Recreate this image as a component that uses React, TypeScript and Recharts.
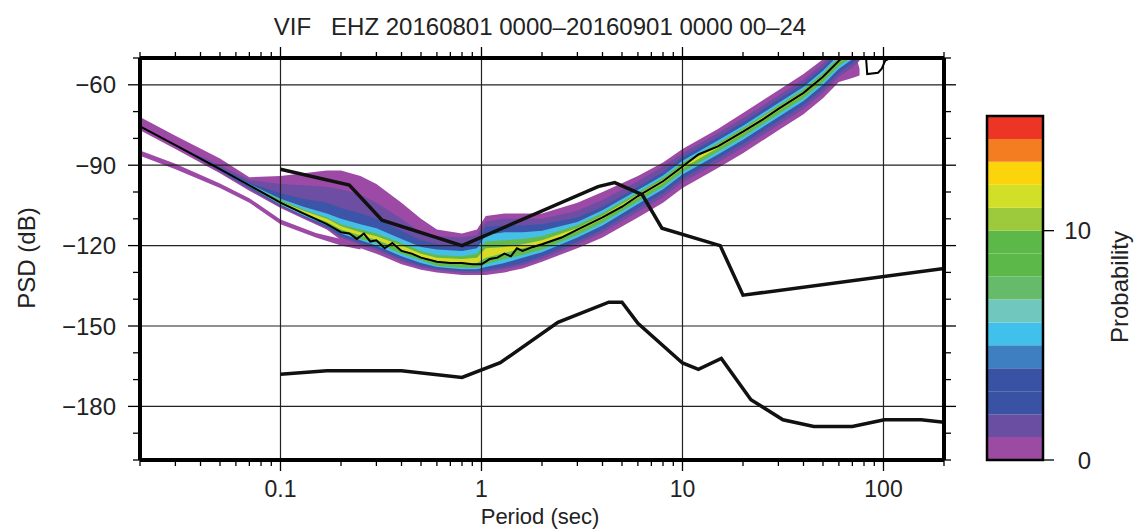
import React from 'react';
import { ComposedChart, Area, Line, XAxis, YAxis, ReferenceLine, BarChart, Bar } from 'recharts';

const FONT = '"Liberation Sans", Arial, Helvetica, sans-serif';
const INK = '#222';

// axis ticks
const majorPeriods = [0.1, 1, 10, 100];
const periodTicks = [
  0.02, 0.03, 0.04, 0.05, 0.06, 0.07, 0.08, 0.09, 0.1, 0.2, 0.3, 0.4, 0.5, 0.6, 0.7, 0.8, 0.9, 1,
  2, 3, 4, 5, 6, 7, 8, 9, 10, 20, 30, 40, 50, 60, 70, 80, 90, 100, 200,
];
const majorPsd = [-60, -90, -120, -150, -180];
const psdTicks = [-200, -190, -180, -170, -160, -150, -140, -130, -120, -110, -100, -90, -80, -70, -60, -50];

// Peterson noise models
const nhnmPeriods = [0.1, 0.22, 0.32, 0.8, 3.8, 4.6, 6.3, 7.9, 15.4, 20, 200];
const nhnmPsd = [-91.5, -97.4, -110.5, -120.0, -98.0, -96.5, -101.0, -113.5, -120.0, -138.5, -128.5];
const nlnmPeriods = [0.1, 0.17, 0.4, 0.8, 1.24, 2.4, 4.3, 5.0, 6.0, 10, 12, 15.6, 21.9, 31.6, 45, 70, 101, 154, 200];
const nlnmPsd = [
  -168.0, -166.7, -166.7, -169.2, -163.7, -148.6, -141.1, -141.1, -149.0, -163.8, -166.2, -162.1,
  -177.5, -185.0, -187.5, -187.5, -185.0, -185.0, -185.9,
];

// mode of the PDF
const modePeriods = [
  0.02, 0.03, 0.05, 0.07, 0.1, 0.13, 0.17, 0.2, 0.22, 0.24, 0.26, 0.28, 0.3, 0.33, 0.36, 0.4, 0.45,
  0.5, 0.6, 0.7, 0.8, 0.9, 1.0, 1.05, 1.1, 1.2, 1.3, 1.4, 1.5, 1.6, 1.8, 2.0, 2.5, 3, 4, 5, 6, 8,
  10, 12, 15, 20, 25, 30, 40, 50, 60, 70, 81, 83, 94, 98, 102, 112, 130,
];
const modePsd = [
  -75.5, -82.5, -91.5, -97.5, -104, -108, -112, -115, -115.5, -117.5, -115.5, -118.5, -118, -121,
  -119, -122, -123, -124.5, -126, -126.5, -126.5, -127, -127, -126, -125, -124.5, -123, -124, -121,
  -122, -120.5, -119.5, -117, -114, -109.5, -105.5, -101.5, -96, -90.5, -86, -83, -77.5, -73, -69,
  -63, -57, -51, -47, -45, -56, -55.5, -54, -51, -49.5, -47,
];

// PDF probability bands (low / high dB at each period)
const bandPeriods = [
  0.02, 0.03, 0.05, 0.07, 0.1, 0.13, 0.17, 0.2, 0.25, 0.3, 0.4, 0.5, 0.6, 0.8, 0.95, 1.05, 1.3,
  1.6, 2, 3, 4, 6, 8, 10, 15, 20, 30, 40, 50, 60, 70, 76,
];
const purpleLow = [
  -77, -84, -93, -99.5, -106, -110, -114, -118, -121, -123, -127, -129, -130, -131, -131, -131, -130,
  -128.5, -126, -121, -117, -109.5, -104, -98.5, -91, -85.5, -77, -71, -65, -59, -57.5, -56.5,
];
const purpleHigh = [
  -72, -79, -87.5, -94.5, -94, -93, -92, -92, -94, -97, -104, -110, -114, -115.5, -114, -109, -108,
  -108, -108, -104, -100, -94, -89, -84, -76.5, -70.5, -62, -56, -50.5, -46, -44, -54,
];
const violetLow = [
  -75.5, -82.5, -92.5, -99, -105.5, -109.5, -113.5, -117, -119.8, -121.8, -125.8, -128.2, -129.2,
  -130.2, -130.2, -129.8, -128.8, -127.3, -125, -119.5, -115.2, -107.5, -102, -96.5, -89, -83.5,
  -75, -69, -63, -57, -53.5, -51,
];
const violetHigh = [
  -75.5, -82.5, -90, -95.5, -97, -97.5, -98, -99, -101, -104, -110, -115, -116.5, -117, -116, -111,
  -110, -110, -110, -107, -103, -96, -90.5, -85.5, -78, -72.5, -64, -58, -52, -46, -44, -48,
];
const blueLow = [
  -75.5, -82.5, -92, -98.5, -105, -109, -113, -116.5, -119, -121, -125, -127.5, -128.5, -129.5,
  -129.5, -129, -128, -126.5, -124, -118.5, -114, -106, -100.5, -95, -87.5, -82, -73.5, -67.5,
  -61.5, -55.5, -52, -50,
];
const blueHigh = [
  -75.5, -82.5, -91, -96.5, -100.5, -102.5, -104, -106, -108, -110, -114.5, -118, -119.5, -120,
  -119, -113, -112.5, -112.5, -112, -109.5, -105.5, -98, -92.5, -87, -79.5, -74, -65.5, -59.5,
  -53.5, -47.5, -44.5, -48,
];
const cyanLow = [
  -75.5, -82.5, -91.8, -98, -104.8, -108.8, -112.5, -115.5, -118, -120, -124, -126.5, -128, -128.8,
  -128.8, -128, -126.5, -124.5, -122.5, -117, -112.5, -104.5, -99, -93.5, -86, -80.5, -72, -66, -60,
  -54, -50.5, -49,
];
const cyanHigh = [
  -75.5, -82.5, -91.2, -97, -102.5, -105.5, -108, -110, -112, -113.5, -117.5, -120.5, -121.5, -122,
  -121, -116, -115, -115, -114.5, -111.2, -106.8, -99.3, -93.8, -88.3, -80.8, -75.3, -66.8, -60.8,
  -54.8, -48.8, -45.3, -49,
];
const greenLow = [
  -75.5, -82.5, -91.7, -97.8, -104.5, -108.5, -112, -115, -117.5, -119, -123, -125.5, -127.5,
  -128.3, -128.3, -127, -125, -123.5, -121.5, -116, -111.5, -103.5, -98, -92.5, -85, -79.5, -71,
  -65, -59, -53, -49.5, -49,
];
const greenHigh = [
  -75.5, -82.5, -91.3, -97.2, -103, -106.5, -109.5, -112, -114, -115.5, -119, -122, -123.5, -124,
  -123, -118.5, -118, -117.5, -116.5, -112.3, -107.8, -100.2, -94.7, -89.2, -81.7, -76.2, -67.7,
  -61.7, -55.7, -49.7, -46.2, -49,
];
const yellowLow = [
  -75.5, -82.5, -91.5, -97.5, -104, -107.8, -111.2, -114, -116.2, -117.8, -121.5, -124.2, -125.8,
  -126.5, -126.5, -124.5, -122.8, -121, -119.3, -114.6, -110.1, -102.1, -96.6, -91.1, -83.6, -78.1,
  -69.6, -63.6, -57.6, -51.6, -48, -49,
];
const yellowHigh = [
  -75.5, -82.5, -91.5, -97.5, -103.5, -107, -110, -112.8, -115, -116.5, -120, -123, -124.5, -125,
  -124.5, -121, -120.5, -119.5, -118, -113.4, -108.9, -100.9, -95.4, -89.9, -82.4, -76.9, -68.4,
  -62.4, -56.4, -50.4, -46.8, -49,
];

// secondary low branch at short periods
const branchPeriods = [0.02, 0.03, 0.05, 0.07, 0.1, 0.15, 0.2, 0.25];
const branchLow = [-86.5, -91.5, -98.5, -104, -112, -117, -120, -121.5];
const branchHigh = [-84.5, -89.5, -96.8, -102.3, -110.3, -115.3, -117.5, -119];

// colour scale, bottom (0) to top (15)
const probabilityColors = [
  '#9c4ba3', '#6a4ea2', '#3a52a4', '#3a52a4', '#3e7fc2', '#3fc1ec', '#6fc7bd', '#66bb6a',
  '#5cb849', '#5cb849', '#9dca3d', '#d2df27', '#fcd40c', '#f47d22', '#ed3525',
];
const probabilityTicks = [0, 10];

const toLine = (xs: number[], ys: number[]) => xs.map((period, i) => ({ period, psd: ys[i] }));

const bandRows = bandPeriods.map((period, i) => ({
  period,
  purple: [purpleLow[i], purpleHigh[i]],
  violet: [violetLow[i], violetHigh[i]],
  blue: [blueLow[i], blueHigh[i]],
  cyan: [cyanLow[i], cyanHigh[i]],
  green: [greenLow[i], greenHigh[i]],
  yellow: [yellowLow[i], yellowHigh[i]],
}));
const branchRows = branchPeriods.map((period, i) => ({ period, band: [branchLow[i], branchHigh[i]] }));
const colorRow = [Object.fromEntries([['name', 'pdf'], ...probabilityColors.map((_, i) => ['b' + i, 1])])];

const bands = [
  { key: 'purple', fill: '#9d4aa6' },
  { key: 'violet', fill: '#6d4ea3' },
  { key: 'blue', fill: '#3d55a8' },
  { key: 'cyan', fill: '#45bfe6' },
  { key: 'green', fill: '#62b94c' },
  { key: 'yellow', fill: '#d8dc26' },
];

const fmtPeriod = (v: number) => String(v);
const fmtPsd = (v: number) => (v < 0 ? '\u2212' + Math.abs(v) : String(v));

const BottomTick = (props: any) => {
  const { x, y, payload } = props;
  const major = majorPeriods.includes(payload.value);
  return (
    <g>
      <line x1={x} x2={x} y1={y} y2={y + (major ? 11 : 6)} stroke="#000" strokeWidth={1.3} />
      {major && (
        <text x={x} y={y + 37} textAnchor="middle" fontSize={23} fontFamily={FONT} fill={INK}>
          {fmtPeriod(payload.value)}
        </text>
      )}
    </g>
  );
};

const TopTick = (props: any) => {
  const { x, y, payload } = props;
  const major = majorPeriods.includes(payload.value);
  return <line x1={x} x2={x} y1={y} y2={y - (major ? 11 : 6)} stroke="#000" strokeWidth={1.3} />;
};

const LeftTick = (props: any) => {
  const { x, y, payload } = props;
  const major = majorPsd.includes(payload.value);
  return (
    <g>
      <line x1={x - (major ? 12 : 7)} x2={x} y1={y} y2={y} stroke="#000" strokeWidth={1.3} />
      {major && (
        <text x={x - 24} y={y + 8.5} textAnchor="end" fontSize={24} fontFamily={FONT} fill={INK}>
          {fmtPsd(payload.value)}
        </text>
      )}
    </g>
  );
};

const RightTick = (props: any) => {
  const { x, y, payload } = props;
  const major = majorPsd.includes(payload.value);
  return <line x1={x} x2={x + (major ? 12 : 7)} y1={y} y2={y} stroke="#000" strokeWidth={1.3} />;
};

const ScaleTick = (props: any) => {
  const { x, y, payload } = props;
  return (
    <g>
      <line x1={x} x2={x + 11} y1={y} y2={y} stroke="#000" strokeWidth={1.3} />
      <text x={x + 48} y={y + 8.5} textAnchor="end" fontSize={24} fontFamily={FONT} fill={INK}>
        {payload.value}
      </text>
    </g>
  );
};

const frame = { stroke: '#000', strokeWidth: 4 };

export default function App() {
  return (
    <div style={{ position: 'absolute', left: 0, top: 0, width: 1137, height: 529, background: '#fff' }}>
      <ComposedChart width={1137} height={529} margin={{ top: 38, right: 173, bottom: 9, left: 0 }}>
        <XAxis
          dataKey="period"
          type="number"
          scale="log"
          domain={[0.02, 200]}
          allowDataOverflow
          ticks={periodTicks}
          interval={0}
          tick={(p: any) => <BottomTick {...p} />}
          tickLine={false}
          tickSize={0}
          tickMargin={0}
          axisLine={frame}
          height={60}
        />
        <XAxis
          xAxisId="top"
          orientation="top"
          dataKey="period"
          type="number"
          scale="log"
          domain={[0.02, 200]}
          allowDataOverflow
          ticks={periodTicks}
          interval={0}
          tick={(p: any) => <TopTick {...p} />}
          tickLine={false}
          tickSize={0}
          tickMargin={0}
          axisLine={frame}
          height={20}
        />
        <YAxis
          type="number"
          domain={[-200, -50]}
          allowDataOverflow
          ticks={psdTicks}
          interval={0}
          tick={(p: any) => <LeftTick {...p} />}
          tickLine={false}
          tickSize={0}
          tickMargin={0}
          axisLine={frame}
          width={140}
        />
        <YAxis
          yAxisId="right"
          orientation="right"
          type="number"
          domain={[-200, -50]}
          allowDataOverflow
          ticks={psdTicks}
          interval={0}
          tick={(p: any) => <RightTick {...p} />}
          tickLine={false}
          tickSize={0}
          tickMargin={0}
          axisLine={frame}
          width={20}
        />

        <Area data={bandRows} dataKey="purple" type="linear" stroke="none" fill="#9d4aa6" fillOpacity={1} isAnimationActive={false} />
        <Area data={branchRows} dataKey="band" type="linear" stroke="none" fill="#9d4aa6" fillOpacity={1} isAnimationActive={false} />
        {bands.slice(1).map((b) => (
          <Area key={b.key} data={bandRows} dataKey={b.key} type="linear" stroke="none" fill={b.fill} fillOpacity={1} isAnimationActive={false} />
        ))}

        {majorPeriods.map((p) => (
          <ReferenceLine key={'x' + p} x={p} stroke="#222" strokeWidth={1.2} />
        ))}
        {majorPsd.map((v) => (
          <ReferenceLine key={'y' + v} y={v} stroke="#222" strokeWidth={1.2} />
        ))}

        <Line data={toLine(modePeriods, modePsd)} dataKey="psd" type="linear" stroke="#000" strokeWidth={2} dot={false} activeDot={false} isAnimationActive={false} />
        <Line data={toLine(nhnmPeriods, nhnmPsd)} dataKey="psd" type="linear" stroke="#111" strokeWidth={3.5} dot={false} activeDot={false} isAnimationActive={false} />
        <Line data={toLine(nlnmPeriods, nlnmPsd)} dataKey="psd" type="linear" stroke="#111" strokeWidth={3.5} dot={false} activeDot={false} isAnimationActive={false} />
      </ComposedChart>

      <div style={{ position: 'absolute', left: 980, top: 100 }}>
        <BarChart width={157} height={380} data={colorRow} margin={{ top: 16, right: 0, bottom: 20, left: 7 }} barCategoryGap={0} barGap={0}>
          <XAxis dataKey="name" hide />
          <YAxis
            orientation="right"
            type="number"
            domain={[0, 15]}
            ticks={probabilityTicks}
            interval={0}
            tick={(p: any) => <ScaleTick {...p} />}
            tickLine={false}
            tickSize={0}
            tickMargin={0}
            axisLine={false}
            width={94}
          />
          {probabilityColors.map((c, i) => (
            <Bar key={i} dataKey={'b' + i} stackId="pdf" fill={c} isAnimationActive={false} />
          ))}
        </BarChart>
      </div>

      <svg width={1137} height={529} style={{ position: 'absolute', left: 0, top: 0, pointerEvents: 'none' }}>
        <text x={540} y={34.5} textAnchor="middle" fontSize={24} fontFamily={FONT} fill={INK} style={{ whiteSpace: 'pre' }}>
          {'VIF   EHZ 20160801 0000\u201320160901 0000 00\u201324'}
        </text>
        <text x={540} y={524} textAnchor="middle" fontSize={22} fontFamily={FONT} fill={INK}>
          Period (sec)
        </text>
        <text x={35} y={258} textAnchor="middle" fontSize={24} fontFamily={FONT} fill={INK} transform="rotate(-90 35 258)">
          PSD (dB)
        </text>
        <text x={1128} y={287} textAnchor="middle" fontSize={24} fontFamily={FONT} fill={INK} transform="rotate(-90 1128 287)">
          Probability
        </text>
        <rect x={987} y={116} width={56} height={344} fill="none" stroke="#000" strokeWidth={2.5} />
      </svg>
    </div>
  );
}
